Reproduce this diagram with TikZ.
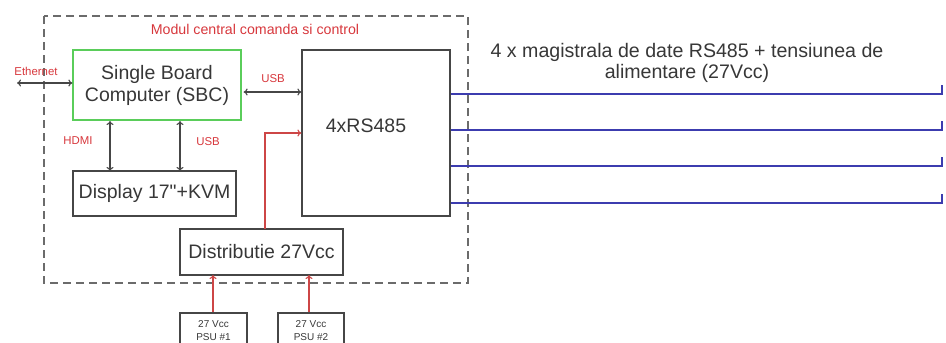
\documentclass[tikz,border=0pt]{standalone}
\usepackage{fontspec}
\setmainfont{Liberation Sans}
\usetikzlibrary{arrows.meta}
\definecolor{boxgray}{RGB}{70,70,70}
\definecolor{txtgray}{RGB}{55,55,55}
\definecolor{lblred}{RGB}{215,55,60}
\definecolor{wirered}{RGB}{205,70,70}
\definecolor{busblue}{RGB}{60,60,175}
\definecolor{sbcgreen}{RGB}{90,205,90}
\tikzset{
  x=1pt, y=-1pt,
  blk/.style={draw=boxgray, line width=1.2pt, rectangle, inner sep=0pt, text=txtgray, font=\fontsize{19.5}{22}\selectfont, align=center},
  psu/.style={draw=boxgray, line width=1.2pt, rectangle, inner sep=0pt, text=txtgray, font=\fontsize{10}{13}\selectfont, align=center},
  lbl/.style={text=lblred, inner sep=0pt, font=\fontsize{11.4}{13}\selectfont},
  dbl/.style={draw=boxgray, line width=1.1pt, {To[length=4pt,width=7pt]}-{To[length=4pt,width=7pt]}},
  pwr/.style={draw=wirered, line width=1.1pt, -{To[length=4pt,width=7pt]}},
  bus/.style={draw=busblue, line width=1.7pt},
}
\begin{document}
\begin{tikzpicture}
\useasboundingbox (0,0) rectangle (946,343);
\clip (0,0) rectangle (946,343);
% dashed module
\draw[draw=boxgray!80, line width=1.2pt, dash pattern=on 8pt off 5pt] (44,16) rectangle (468,283);
\node[lbl, font=\fontsize{14.2}{16}\selectfont] (title) at (255,29) {Modul central comanda si control};
% blocks
\node[blk, draw=sbcgreen, minimum width=168pt, minimum height=70pt] (sbc) at (157,85) {Single Board\\Computer (SBC)};
\node[blk, minimum width=148pt, minimum height=166pt] (rs) at (376,133) {};
\node[txtgray, font=\fontsize{19.5}{22}\selectfont, inner sep=0pt] (rstxt) at (366,126) {4xRS485};
\node[blk, minimum width=163pt, minimum height=45pt] (disp) at (154.5,193.5) {Display 17\textquotedbl+KVM};
\node[blk, minimum width=163pt, minimum height=46pt] (dist) at (261.5,252) {Distributie 27Vcc};
\node[psu, minimum width=67pt, minimum height=36pt] (psu1) at (213.5,331) {27 Vcc\\PSU \#1};
\node[psu, minimum width=66pt, minimum height=36pt] (psu2) at (311,331) {27 Vcc\\PSU \#2};
% ethernet
\coordinate (eth) at (17,83);
\draw[dbl] (eth) -- (sbc.west |- eth);
\node[lbl] (ethl) at (36,71) {Ethernet};
% USB SBC - RS485
\draw[dbl] ([xshift=2pt]sbc.east |- 0,92) -- (rs.west |- 0,92);
\node[lbl] (usb1) at (273,79) {USB};
% HDMI, USB vertical
\draw[dbl] (110,121) -- (110,171);
\node[lbl] (hdmi) at (78,141) {HDMI};
\draw[dbl] (180,121) -- (180,171);
\node[lbl] (usb2) at (208,142) {USB};
% power
\draw[pwr] (265,229) |- (rs.west |- 0,133);
\draw[pwr] (psu1.north -| 213,0) -- (213,275);
\draw[pwr] (psu2.north -| 309,0) -- (309,275);
% buses
\foreach \yy in {94,130,166,203}{
  \draw[bus] (rs.east |- 0,\yy) -- (942,\yy) -- (942,\yy-9);
}
\node[txtgray, align=center, inner sep=0pt, font=\fontsize{19.6}{21}\selectfont] (bustxt) at (687,63) {4 x magistrala de date RS485 + tensiunea de\\alimentare (27Vcc)};
\end{tikzpicture}
\end{document}
